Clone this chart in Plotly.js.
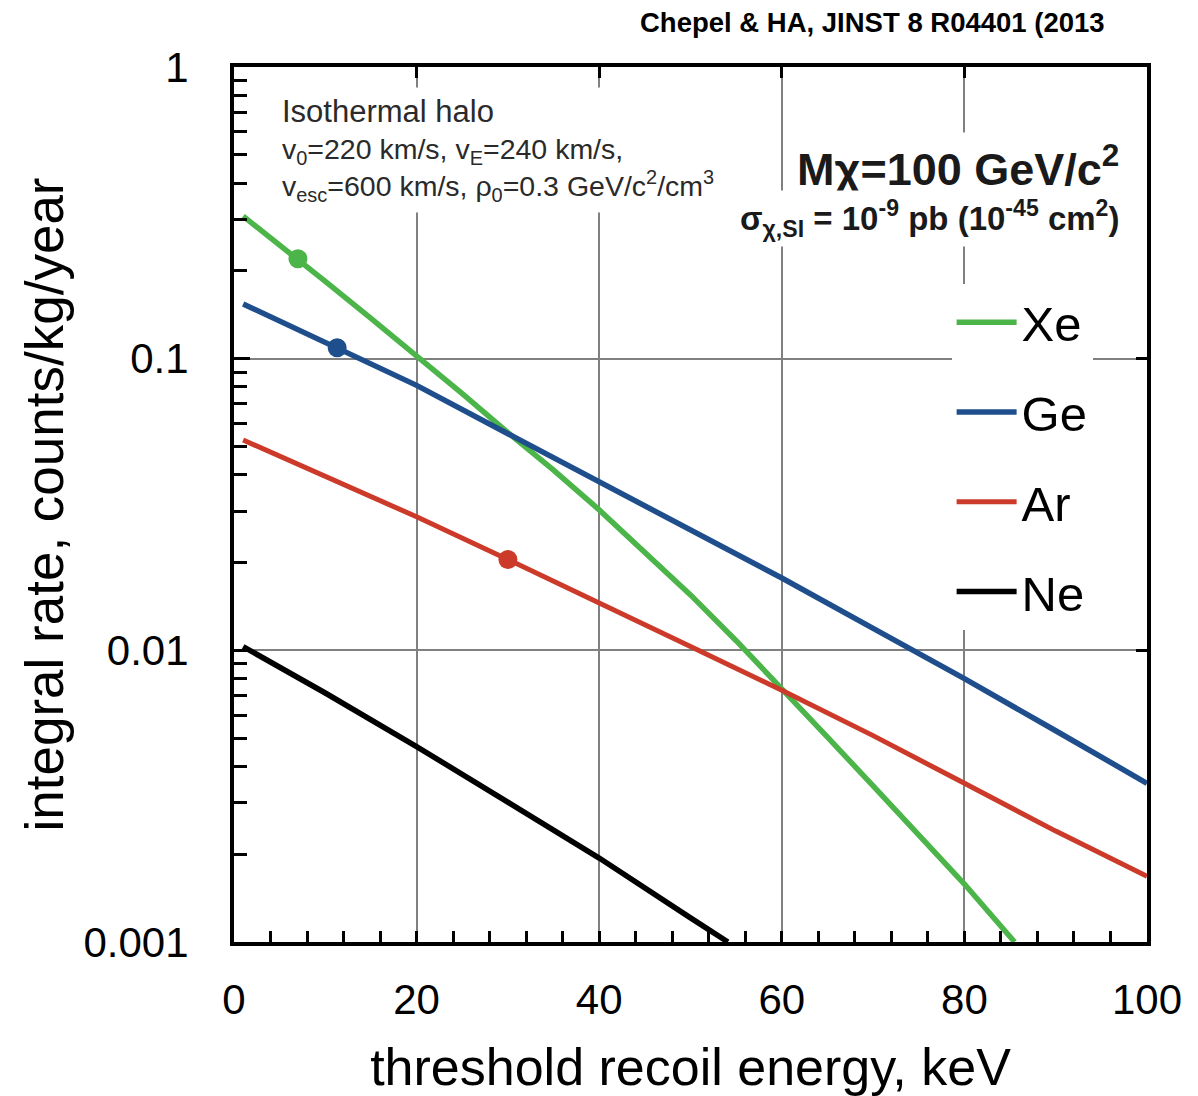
<!DOCTYPE html>
<html>
<head>
<meta charset="utf-8">
<script src="https://cdn.plot.ly/plotly-3.0.1.min.js"></script>
<style>
  html, body { margin: 0; padding: 0; background: #fff; }
  #chart { width: 1198px; height: 1096px; }
</style>
</head>
<body>
<div id="chart"></div>
<script>
// Integral WIMP rate vs. threshold recoil energy (M = 100 GeV/c^2, sigma_SI = 1e-45 cm^2)
const xeEnergy = [1, 7, 10, 15, 20, 25, 30, 35, 40, 45, 50, 55, 60, 65, 70, 75, 80, 85.5];
const xeRate   = [0.308, 0.220, 0.184, 0.1374, 0.1023, 0.0759, 0.0558, 0.0415, 0.0303, 0.0218, 0.01549, 0.01079, 0.00741, 0.00504, 0.00343, 0.00233, 0.00158, 0.001];

const geEnergy = [1, 11.3, 20, 30, 40, 50, 60, 70, 80, 90, 100];
const geRate   = [0.154, 0.109, 0.081, 0.0553, 0.0377, 0.0258, 0.0177, 0.0119, 0.0080, 0.0053, 0.0035];

const arEnergy = [1, 20, 30, 40, 50, 60, 70, 80, 90, 100];
const arRate   = [0.0526, 0.0287, 0.0205, 0.0146, 0.0103, 0.0073, 0.0051, 0.0035, 0.0024, 0.00168];

const neEnergy = [1, 10, 20, 30, 40, 50, 54.1];
const neRate   = [0.0103, 0.00714, 0.00468, 0.00302, 0.00194, 0.00121, 0.001];

// highlighted points on the Xe, Ge and Ar curves
const dotEnergy = [7, 11.3, 30];
const dotRate   = [0.220, 0.109, 0.0205];

const xTicks = [0, 20, 40, 60, 80, 100];
const yTicks = [0.001, 0.01, 0.1, 1];
const yTickText = ['0.001', '0.01', '0.1', '1'];

const colXe = '#4cb54a', colGe = '#1f4e8c', colAr = '#cc3a2a', colNe = '#000000';
const FONT = 'Liberation Sans, Arial, Helvetica, sans-serif';

function curve(name, x, y, color, width, group) {
  return {
    type: 'scatter', mode: 'lines', name: name, x: x, y: y,
    line: { color: color, width: width },
    legendgroup: group, hoverinfo: 'x+y+name'
  };
}

const traces = [
  curve('Xe', xeEnergy, xeRate, colXe, 5.5, 'g1'),
  curve('Ge', geEnergy, geRate, colGe, 5.5, 'g2'),
  curve('Ar', arEnergy, arRate, colAr, 5, 'g3'),
  curve('Ne', neEnergy, neRate, colNe, 5.5, 'g4'),
  {
    type: 'scatter', mode: 'markers', x: dotEnergy, y: dotRate, showlegend: false,
    marker: { size: 19, color: [colXe, colGe, colAr] }, hoverinfo: 'x+y'
  },
  // carries the mirrored top/right tick axes
  { type: 'scatter', mode: 'markers', x: [], y: [], xaxis: 'x2', yaxis: 'y2', showlegend: false, hoverinfo: 'skip' }
];

// minor tick positions on the log axis (2..9 in each decade)
const yMinor = [];
[0.001, 0.01, 0.1].forEach(d => { for (let k = 2; k <= 9; k++) yMinor.push(+(d * k).toPrecision(3)); });

const layout = {
  width: 1198, height: 1096,
  margin: { l: 234, r: 51, t: 67, b: 154 },
  paper_bgcolor: '#ffffff', plot_bgcolor: '#ffffff',
  font: { family: FONT, color: '#000' },
  showlegend: true,
  legend: {
    x: 0.786, y: 0.752, xanchor: 'left', yanchor: 'top',
    bgcolor: '#ffffff', borderwidth: 0,
    font: { family: FONT, size: 49, color: '#000' },
    itemwidth: 60, tracegroupgap: 23, traceorder: 'grouped'
  },
  xaxis: {
    range: [0, 100], tickvals: xTicks, ticks: 'inside', ticklen: 11, tickwidth: 3, tickcolor: '#000',
    showline: true, linewidth: 4, linecolor: '#000', mirror: true,
    showgrid: true, gridcolor: '#808080', gridwidth: 2, zeroline: false,
    tickfont: { family: FONT, size: 42, color: '#000' }, ticklabelstandoff: 18,
    minor: { dtick: 4, ticks: 'inside', ticklen: 11, tickwidth: 3, tickcolor: '#000', showgrid: false },
    title: { text: 'threshold recoil energy, keV', font: { family: FONT, size: 52, color: '#000' }, standoff: 27 }
  },
  yaxis: {
    type: 'log', range: [-3, 0], tickvals: yTicks, ticktext: yTickText,
    ticks: 'inside', ticklen: 16, tickwidth: 3, tickcolor: '#000',
    showline: true, linewidth: 4, linecolor: '#000', mirror: true,
    showgrid: true, gridcolor: '#808080', gridwidth: 2, zeroline: false,
    tickfont: { family: FONT, size: 42, color: '#000' }, ticklabelstandoff: 33,
    minor: { tickvals: yMinor, ticks: 'inside', ticklen: 13, tickwidth: 3, tickcolor: '#000', showgrid: false },
    title: { text: 'integral rate, counts/kg/year', font: { family: FONT, size: 53, color: '#000' }, standoff: 4 }
  },
  xaxis2: {
    overlaying: 'x', side: 'top', range: [0, 100], tickvals: xTicks,
    ticks: 'inside', ticklen: 11, tickwidth: 3, tickcolor: '#000',
    showticklabels: false, showgrid: false, showline: false, zeroline: false
  },
  yaxis2: {
    overlaying: 'y', side: 'right', type: 'log', range: [-3, 0], tickvals: yTicks,
    ticks: 'inside', ticklen: 11, tickwidth: 3, tickcolor: '#000',
    showticklabels: false, showgrid: false, showline: false, zeroline: false
  },
  annotations: [
    {
      xref: 'paper', yref: 'paper', x: 0.956, y: 1.051, xanchor: 'right', yanchor: 'middle',
      text: '<b>Chepel &amp; HA, JINST 8 R04401 (2013</b>', showarrow: false,
      font: { family: FONT, size: 27.5, color: '#000' }
    },
    {
      xref: 'paper', yref: 'paper', x: 0.045, y: 0.977, xanchor: 'left', yanchor: 'top', align: 'left',
      text: '<span style="font-size:31px">Isothermal halo</span><br>v<sub>0</sub>=220 km/s, v<sub>E</sub>=240 km/s,<br>' +
            'v<sub>esc</sub>=600 km/s, ρ<sub>0</sub>=0.3 GeV/c<sup>2</sup>/cm<sup>3</sup>',
      showarrow: false, bgcolor: '#ffffff', borderpad: 6,
      font: { family: FONT, size: 28.5, color: '#2a2a2a' }
    },
    {
      xref: 'paper', yref: 'paper', x: 0.975, y: 0.887, xanchor: 'right', yanchor: 'middle',
      text: '<b>Mχ=100 GeV/c<sup>2</sup></b>', showarrow: false, bgcolor: '#ffffff', borderpad: 4,
      font: { family: FONT, size: 45, color: '#1a1a1a' }
    },
    {
      xref: 'paper', yref: 'paper', x: 0.975, y: 0.827, xanchor: 'right', yanchor: 'middle',
      text: '<b>σ<sub>χ,SI</sub> = 10<sup>-9</sup> pb (10<sup>-45</sup> cm<sup>2</sup>)</b>',
      showarrow: false, bgcolor: '#ffffff', borderpad: 4,
      font: { family: FONT, size: 33, color: '#1a1a1a' }
    }
  ]
};

Plotly.newPlot('chart', traces, layout, { staticPlot: true });
</script>
</body>
</html>
